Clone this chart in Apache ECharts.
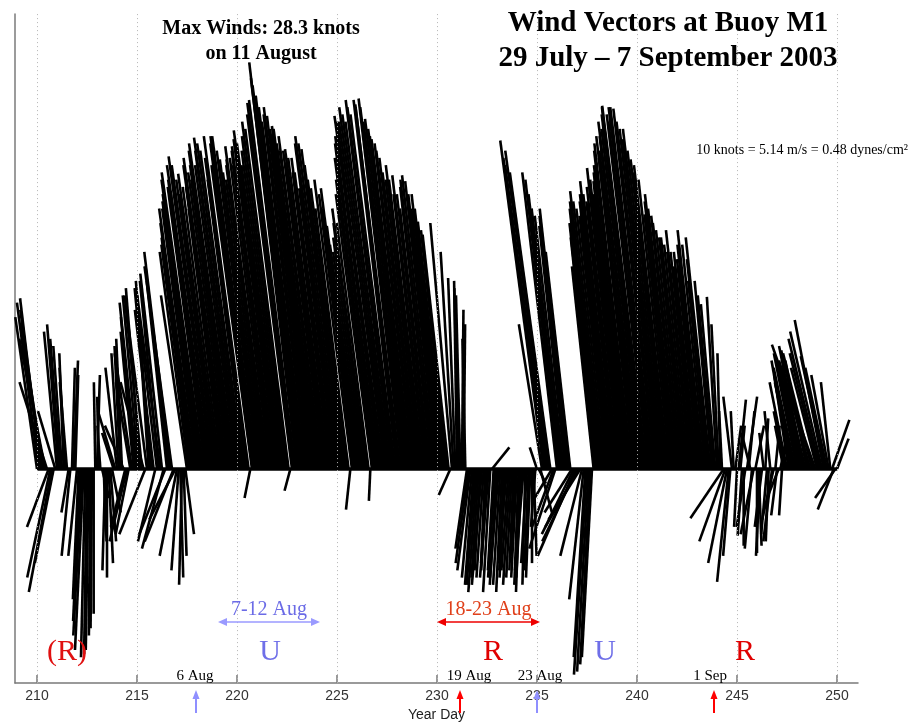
<!DOCTYPE html>
<html>
<head>
<meta charset="utf-8">
<title>Wind Vectors at Buoy M1</title>
<script src="https://cdn.jsdelivr.net/npm/echarts@6/dist/echarts.min.js"></script>
<style>
  html, body { margin: 0; padding: 0; background: #fff; }
  #chart { width: 911px; height: 727px; }
</style>
</head>
<body>
<div id="chart"></div>
<script>
// wind vectors, 2-hourly, starting at year day 210.0 (knots)
const START_DAY = 210;
const STEP = 1 / 12;

// east component (knots), one row per day
const U = [
  -1.5, -1.5, -1.4, -1.5, -1.6, -1.8, -1.9, -1.5, -1.6, -1.6, -1.3, -1.2, // 210
  -0.9, -0.8, -0.7, -0.6, -0.3, -0.4, -0.5, -0.5, -0.6, 0.2, 0.3, 0.2,    // 211
  -0.6, -0.4, -0.5, -0.6, -0.6, -0.3, -0.2, -0.2, -0.1, -0.1, 0.0, -0.1,  // 212
  0.2, -0.1, -0.2, 0.5, 0.2, -0.2, 0.0, 0.3, 0.4, 0.6, -0.8, -1.2,        // 213
  -0.8, -0.5, -0.4, -0.4, -1.3, -1.0, -1.2, -0.9, -1.0, -1.2, -0.9, -1.0, // 214
  -1.2, -1.1, -1.0, -1.2, -1.6, -1.8, -1.3, -0.8, -1.0, -1.2, -1.3, -1.2, // 215
  -1.5, -1.3, -1.6, -1.5, -1.5, -1.8, -1.4, -1.6, -1.8, -1.9, -2.0, -1.8, // 216
  -1.2, -0.5, 0.2, -0.2, 0.2, 0.6, -1.8, -2.0, -2.0, -2.1, -2.3, -2.5,    // 217
  -2.4, -2.5, -2.6, -2.8, -2.9, -2.6, -2.5, -2.8, -3.0, -3.0, -2.9, -2.7, // 218
  -2.6, -2.8, -2.6, -2.3, -2.6, -2.9, -3.0, -2.8, -2.7, -2.9, -3.1, -3.2, // 219
  -2.9, -3.0, -3.2, -3.1, -3.0, -2.6, -2.9, -3.1, -0.4, -2.8, -3.0, -3.1, // 220
  -3.1, -2.9, -2.8, -2.7, -2.6, -2.7, -2.8, -3.0, -2.8, -2.7, -2.9, -3.0, // 221
  -3.0, -3.1, -3.0, -2.8, -2.9, -3.0, -3.1, -3.0, -0.4, -3.1, -3.2, -3.2, // 222
  -3.3, -3.3, -3.3, -3.2, -3.1, -3.0, -3.0, -3.1, -3.0, -2.9, -2.9, -3.0, // 223
  -3.0, -2.9, -2.8, -3.0, -2.8, -2.7, -2.9, -2.8, -2.6, -2.8, -2.7, -2.5, // 224
  -2.9, -3.0, -2.9, -2.8, -2.7, -2.6, -2.5, -2.3, -0.3, -2.6, -2.4, -2.3, // 225
  -2.5, -2.2, -2.1, -2.0, -2.1, -2.2, -2.4, -2.2, -0.1, -2.5, -2.6, -2.8, // 226
  -2.9, -3.0, -3.0, -3.1, -3.4, -3.2, -3.3, -3.2, -3.1, -3.2, -3.2, -3.1, // 227
  -3.0, -3.0, -3.1, -3.0, -3.0, -2.9, -2.9, -2.8, -2.8, -2.8, -2.7, -2.7, // 228
  -2.6, -2.5, -2.4, -2.5, -2.4, -2.2, -2.4, -2.2, -2.1, -2.2, -2.3, -2.3, // 229
  -2.2, -2.1, -2.0, -2.1, -2.0, -1.9, -1.8, -1.8, -0.8, -1.5, -0.9, -0.5, // 230
  -0.2, -0.3, -0.3, 0.1, 0.1, -0.2, -0.8, -0.9, -0.9, -0.7, -0.6, -0.6,   // 231
  -0.6, -0.5, -0.4, -0.7, -0.5, -0.3, -0.4, -0.6, -0.5, 1.2, -0.4, -0.5,  // 232
  -0.5, -0.6, -0.5, -0.4, -0.3, -0.4, -0.6, -0.5, -0.5, -0.4, -0.3, -0.3, // 233
  -0.4, -0.3, -0.3, -0.4, -0.6, -0.2, -0.4, -0.3, -0.3, 0.0, 0.2, -0.3,   // 234
  -0.5, 0.5, 0.8, -1.6, -3.0, -2.9, -2.9, -3.0, -2.8, -1.2, -1.5, -1.8,   // 235
  -2.4, -2.3, -2.2, -2.1, -2.0, -1.8, -1.9, -2.0, -1.7, -1.9, -2.2, -2.6, // 236
  -2.4, -2.3, -2.2, -1.5, -1.0, -0.8, -0.9, -0.8, -0.7, -0.7, -1.5, -1.7, // 237
  -1.9, -2.0, -2.1, -2.2, -2.1, -2.0, -1.9, -2.0, -2.1, -2.2, -2.1, -2.0, // 238
  -2.0, -2.2, -2.3, -2.2, -2.1, -2.2, -2.3, -2.4, -2.5, -2.6, -2.4, -2.7, // 239
  -2.6, -2.7, -2.9, -2.8, -2.9, -3.0, -3.1, -2.9, -2.9, -3.0, -3.0, -2.9, // 240
  -2.8, -2.7, -2.6, -2.7, -2.5, -2.4, -2.3, -2.4, -2.2, -1.9, -2.0, -2.1, // 241
  -2.0, -1.9, -1.9, -1.8, -1.7, -1.7, -1.8, -1.7, -1.6, -1.8, -1.6, -1.5, // 242
  -1.6, -1.5, -1.5, -1.7, -1.8, -1.6, -1.3, -1.5, -1.7, -1.2, -1.1, -1.0, // 243
  -0.7, -0.5, -0.2, -0.2, -2.3, -1.8, -1.3, -0.8, -0.5, -0.6, -0.2, 0.4,  // 244
  -0.2, 0.5, 0.3, -0.3, 0.0, -0.6, 0.7, 0.4, -0.6, -0.5, -0.9, 0.6,       // 245
  0.0, 0.2, -0.3, -0.5, -0.3, 0.2, -0.4, -0.2, -0.4, -0.6, -0.8, 0.3,     // 246
  -0.4, -0.8, 0.4, -0.2, -0.6, -0.8, -1.2, -1.0, -1.3, -1.0, -1.3, -1.5,  // 247
  -1.6, -1.5, -1.4, -1.2, -1.7, -1.6, -1.5, -1.9, -1.8, -2.0, -2.4, -3.0, // 248
  -1.8, -2.0, -2.2, -2.2, -2.0, -1.7, -1.5, -1.2, -0.65, 1.2, -1.1, -1.4, // 249
  0.8                                                                     // 250
];

// north component (knots), one row per day
const V = [
  10.5, 11.5, 11.8, 11.0, 10.0, 9.0, 6.0, -4.0, -7.5, -8.5, -6.5, 4.0,          // 210
  9.5, 10.0, 9.0, 8.5, 8.0, 7.0, 6.0, -3.0, -6.0, 7.0, 7.5, 6.5,                // 211
  -6.0, -9.0, -10.5, -11.5, -12.5, -13.0, -12.8, -12.5, -11.5, -11.0, -10.0, 6.0, // 212
  6.5, 5.0, 3.0, -2.0, -5.0, -7.0, -7.5, -6.5, -5.0, -3.0, 2.5, 4.0,            // 213
  7.0, 8.0, 8.5, 9.0, 3.0, -4.0, -5.0, -4.5, 6.0, 8.0, 9.5, 10.5,               // 214
  11.5, 12.0, 12.5, 12.0, 6.0, -4.5, 10.0, 12.0, 13.0, 12.5, 11.0, -5.0,        // 215
  12.5, 13.0, 12.0, 13.5, -5.5, -4.5, 13.0, 14.0, 15.0, 14.0, -5.0, -3.5,       // 216
  -6.0, -7.0, -7.5, -8.0, -6.0, -4.5, 12.0, 15.0, 15.5, 16.0, 17.0, 18.0,       // 217
  18.0, 18.5, 19.0, 20.0, 20.5, 19.5, 19.0, 20.0, 21.0, 21.6, 21.0, 20.0,       // 218
  19.0, 20.4, 19.5, 18.0, 19.5, 21.0, 21.5, 20.5, 20.0, 21.0, 22.0, 22.5,       // 219
  21.0, 22.0, 22.9, 22.5, 22.0, 20.0, 21.5, 23.0, -2.0, 21.0, 22.5, 23.0,       // 220
  23.0, 22.0, 21.4, 20.5, 20.0, 21.0, 21.4, 22.3, 21.5, 21.0, 22.0, 22.3,       // 221
  22.8, 23.4, 22.5, 21.0, 22.0, 23.0, 24.0, 23.5, -1.5, 24.5, 25.3, 25.5,       // 222
  28.1, 27.0, 26.5, 25.8, 25.0, 24.0, 24.5, 25.0, 24.4, 23.5, 23.0, 23.7,       // 223
  23.5, 22.5, 22.0, 23.0, 22.0, 21.0, 22.1, 21.5, 20.5, 21.5, 20.5, 19.4,       // 224
  22.5, 23.0, 22.5, 22.1, 21.0, 20.0, 19.4, 18.0, -2.8, 20.0, 19.0, 18.0,       // 225
  19.4, 16.8, 15.5, 15.0, 16.0, 17.0, 18.0, 17.0, -2.2, 19.0, 20.0, 21.5,       // 226
  22.5, 23.0, 23.5, 24.0, 24.4, 24.0, 25.0, 24.5, 24.0, 25.5, 25.0, 24.5,       // 227
  25.5, 25.2, 25.0, 25.6, 25.0, 24.0, 24.2, 23.5, 23.0, 22.8, 22.5, 22.0,       // 228
  21.5, 20.5, 20.0, 21.0, 20.0, 19.0, 20.3, 19.0, 18.0, 19.5, 20.0, 20.3,       // 229
  19.9, 19.0, 18.0, 19.0, 18.0, 17.1, 16.5, 16.2, -1.8, 17.0, 15.0, 13.2,       // 230
  13.0, 12.5, 12.0, 11.0, 10.0, 9.0, -5.5, -6.5, -7.0, -7.5, -8.0, -8.0,        // 231
  -8.5, -7.5, -7.0, -8.0, -7.5, -6.5, -7.0, -7.5, -8.5, 1.5, -7.0, -7.5,        // 232
  -8.0, -7.5, -8.0, -8.5, -7.0, -7.5, -6.5, -7.0, -8.0, -7.5, -7.0, -6.0,       // 233
  -7.5, -8.0, -8.5, -7.5, -7.0, -8.0, -6.5, -7.0, -7.5, -6.5, -6.0, -4.0,       // 234
  1.5, -1.0, -3.0, 10.0, 22.7, 21.5, 21.0, 22.0, 20.5, -2.0, -4.0, -5.5,        // 235
  20.5, 20.0, 19.0, 18.0, 17.5, 16.8, 17.5, 18.0, 15.0, -3.0, -4.5, -6.0,       // 236
  -5.0, -4.0, -3.5, -6.0, -9.0, -13.0, -14.2, -14.0, -13.5, -13.0, 14.0, 16.0,  // 237
  17.0, 18.0, 18.5, 19.2, 18.5, 18.0, 17.5, 18.5, 19.0, 19.9, 19.0, 18.5,       // 238
  18.0, 19.5, 20.8, 20.0, 19.0, 19.9, 20.5, 21.0, 22.0, 22.5, 21.5, 23.0,       // 239
  22.0, 23.0, 24.0, 23.5, 24.5, 25.0, 25.1, 24.5, 24.0, 25.0, 25.0, 24.9,       // 240
  24.0, 23.5, 22.8, 23.5, 22.0, 21.4, 20.5, 21.0, 20.0, 17.6, 18.5, 19.0,       // 241
  18.0, 17.5, 17.0, 16.5, 16.0, 15.5, 16.0, 15.5, 15.0, 16.5, 15.0, 14.0,       // 242
  15.0, 14.5, 14.0, 15.5, 16.5, 15.5, 13.0, 14.5, 16.0, 13.0, 12.0, 11.4,       // 243
  11.9, 10.0, 8.0, 4.0, -3.4, -5.0, -6.5, -7.8, -6.0, 5.0, 4.0, 3.0,            // 244
  -4.0, 4.8, 3.0, -4.6, -5.3, -4.0, 5.0, 4.0, 2.5, -5.5, -4.5, 3.0,             // 245
  -5.8, -5.3, -6.0, -4.0, 2.5, 3.5, -4.5, -5.0, 4.0, -5.0, -3.5, 3.0,           // 246
  -3.2, -2.0, 2.0, -3.2, 3.0, 4.0, 6.0, 6.5, 7.5, 5.5, 6.0, 7.0,                // 247
  8.0, 7.5, 7.0, 6.0, 8.5, 7.0, 7.5, 8.2, 6.5, 8.0, 7.5, 8.6,                   // 248
  7.0, 8.0, 9.0, 9.5, 10.3, 7.8, 7.0, 6.5, 6.0, 3.4, -2.8, -2.0,                // 249
  2.1                                                                           // 250
];

const TICKS = [210, 215, 220, 225, 230, 235, 240, 245, 250];

// event markers under the axis
const MARK_DAYS = [217.95, 231.15, 235.0, 243.85];
const MARK_COLORS = ['#8f8fff', '#ff0000', '#8f8fff', '#ff0000'];
const MARK_LABELS = ['6 Aug', '19 Aug', '23 Aug', '1 Sep'];
const MARK_LABEL_DAYS = [217.9, 231.6, 235.15, 243.65];

// upwelling / relaxation periods
const PERIOD_LETTERS = ['(R)', 'U', 'R', 'U', 'R'];
const PERIOD_DAYS = [211.5, 221.65, 232.8, 238.4, 245.4];
const PERIOD_COLORS = ['#e01010', '#6f6fe8', '#e00000', '#6f6fe8', '#e00000'];

const SPANS = [
  { label: '7-12 Aug', from: 219.05, to: 224.15, text: '#6b6be6', line: '#9a9aff' },
  { label: '18-23 Aug', from: 230.0, to: 235.15, text: '#e0401a', line: '#ee0000' }
];

const sticks = U.map((u, i) => [START_DAY + i * STEP, u, V[i]]);

const chart = echarts.init(document.getElementById('chart'));

const axisGrey = '#7a7a7a';

chart.setOption({
  animation: false,
  backgroundColor: '#fff',
  grid: { left: 15, right: 53, top: 14, bottom: 38 },
  xAxis: {
    type: 'value',
    min: 208.9,
    max: 251.05,
    name: 'Year Day',
    nameLocation: 'middle',
    nameGap: 23,
    nameTextStyle: { fontFamily: 'Liberation Sans', fontSize: 14, color: '#222' },
    axisLine: { onZero: false, lineStyle: { color: axisGrey, width: 1.5 } },
    axisTick: { inside: true, length: 8, customValues: TICKS, lineStyle: { color: axisGrey, width: 1.5 } },
    axisLabel: { customValues: TICKS, margin: 6, fontFamily: 'Liberation Sans', fontSize: 14, color: '#333' },
    splitLine: { show: false }
  },
  yAxis: {
    type: 'value',
    min: -14.79,
    max: 31.44,
    axisLine: { show: true, onZero: false, lineStyle: { color: axisGrey, width: 1.5 } },
    axisTick: { show: false },
    axisLabel: { show: false },
    splitLine: { show: false }
  },
  series: [
    {
      name: 'grid',
      type: 'line',
      data: [],
      z: 1,
      markLine: {
        silent: true,
        symbol: 'none',
        animation: false,
        label: { show: false },
        lineStyle: { color: '#b5b5b5', type: [1, 3], width: 1 },
        data: TICKS.map(d => ({ xAxis: d }))
      }
    },
    {
      name: 'baseline',
      type: 'line',
      z: 2,
      symbol: 'none',
      data: [[sticks[0][0], 0], [sticks[sticks.length - 1][0], 0]],
      lineStyle: { color: '#000', width: 3.5 }
    },
    {
      name: 'wind',
      type: 'custom',
      z: 3,
      clip: false,
      data: sticks,
      encode: { x: 0, y: 2 },
      renderItem: function (params, api) {
        const t = api.value(0);
        const u = api.value(1);
        const v = api.value(2);
        const base = api.coord([t, 0]);
        const unit = base[1] - api.coord([t, 1])[1];
        return {
          type: 'line',
          shape: { x1: base[0], y1: base[1], x2: base[0] + u * unit, y2: base[1] - v * unit },
          style: { stroke: '#000', lineWidth: 2.6 }
        };
      }
    }
  ]
});

function px(day) {
  return chart.convertToPixel({ xAxisIndex: 0 }, day);
}

function text(x, y, str, font, color) {
  return {
    type: 'text', x: x, y: y, z: 10,
    style: { text: str, font: font, fill: color, align: 'center', verticalAlign: 'middle', textAlign: 'center', textVerticalAlign: 'middle' }
  };
}

function head(x, y, dir, color, len, half) {
  let pts;
  if (dir === 'up') pts = [[x, y], [x - half, y + len], [x + half, y + len]];
  else if (dir === 'left') pts = [[x, y], [x + len, y - half], [x + len, y + half]];
  else pts = [[x, y], [x - len, y - half], [x - len, y + half]];
  return { type: 'polygon', z: 10, shape: { points: pts }, style: { fill: color } };
}

const serif = '"Liberation Serif", "Times New Roman", serif';
const graphics = [];

graphics.push(text(668, 24, 'Wind Vectors at Buoy M1', 'bold 29px ' + serif, '#000'));
graphics.push(text(668, 59, '29 July \u2013 7 September 2003', 'bold 29px ' + serif, '#000'));
graphics.push(text(261, 29, 'Max Winds: 28.3 knots', 'bold 20px ' + serif, '#000'));
graphics.push(text(261, 54, 'on 11 August', 'bold 20px ' + serif, '#000'));
graphics.push({
  type: 'text', x: 908, y: 150, z: 10,
  style: {
    text: '10 knots = 5.14 m/s = 0.48 dynes/cm\u00b2', font: '14px ' + serif, fill: '#000',
    align: 'right', verticalAlign: 'middle', textAlign: 'right', textVerticalAlign: 'middle'
  }
});

SPANS.forEach(s => {
  const x1 = px(s.from);
  const x2 = px(s.to);
  const y = 622;
  graphics.push(text((x1 + x2) / 2, 610, s.label, '20px ' + serif, s.text));
  graphics.push({ type: 'line', z: 10, shape: { x1: x1 + 4, y1: y, x2: x2 - 4, y2: y }, style: { stroke: s.line, lineWidth: 1.5 } });
  graphics.push(head(x1, y, 'left', s.line, 9, 4));
  graphics.push(head(x2, y, 'right', s.line, 9, 4));
});

PERIOD_LETTERS.forEach((l, i) => {
  graphics.push(text(px(PERIOD_DAYS[i]), 652, l, '30px ' + serif, PERIOD_COLORS[i]));
});

MARK_DAYS.forEach((d, i) => {
  const x = px(d);
  graphics.push({ type: 'line', z: 10, shape: { x1: x, y1: 713, x2: x, y2: 697 }, style: { stroke: MARK_COLORS[i], lineWidth: 2 } });
  graphics.push(head(x, 690, 'up', MARK_COLORS[i], 9, 3.5));
  graphics.push(text(px(MARK_LABEL_DAYS[i]), 676, MARK_LABELS[i], '15px ' + serif, '#000'));
});

chart.setOption({ graphic: { elements: graphics } });
</script>
</body>
</html>
